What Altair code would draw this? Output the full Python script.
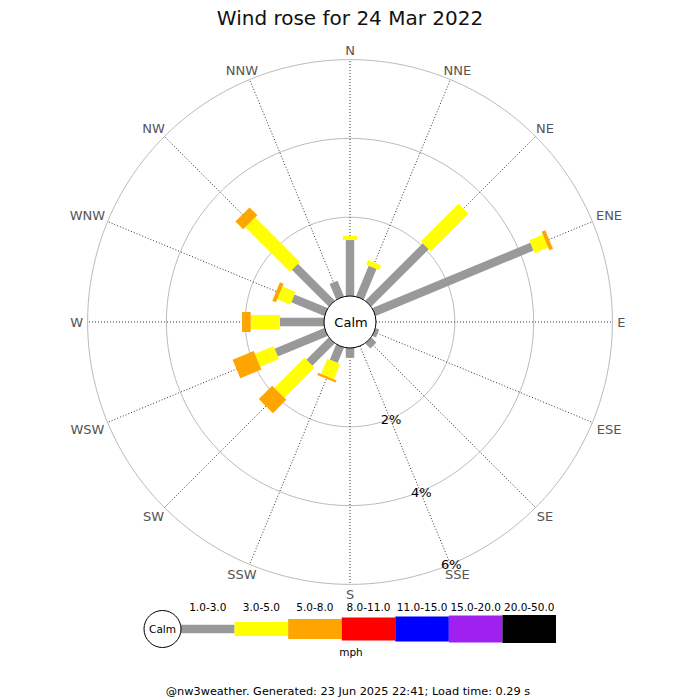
import altair as alt
import pandas as pd

# ---------------- data ----------------
directions = ["N", "NNE", "NE", "ENE", "E", "ESE", "SE", "SSE",
              "S", "SSW", "SW", "WSW", "W", "WNW", "NW", "NNW"]
speed_bins = ["1.0-3.0", "3.0-5.0", "5.0-8.0", "8.0-11.0",
              "11.0-15.0", "15.0-20.0", "20.0-50.0"]
# frequency (%) per direction for each speed bin
pct_1_3 = [1.42, 0.84, 2.06, 4.34, 0.0, 0.10, 0.18, 0.0,
           0.25, 0.42, 0.80, 1.37, 1.12, 0.91, 1.32, 0.43]
pct_3_5 = [0.11, 0.13, 1.35, 0.37, 0.0, 0.0, 0.0, 0.0,
           0.0, 0.42, 1.08, 0.51, 0.74, 0.36, 1.60, 0.0]
pct_5_8 = [0.0, 0.0, 0.0, 0.10, 0.0, 0.0, 0.0, 0.0,
           0.0, 0.06, 0.48, 0.58, 0.22, 0.10, 0.28, 0.0]
rings = [2, 4, 6]
ring_labels = ["2%", "4%", "6%"]
title_text = "Wind rose for 24 Mar 2022"
unit_text = "mph"
calm_text = "Calm"
footer_text = "@nw3weather. Generated: 23 Jun 2025 22:41; Load time: 0.29 s"

# ---------------- style ----------------
bin_colors = ["#999999", "#ffff00", "#ffa500", "#ff0000",
              "#0000ff", "#a020f0", "#000000"]
bin_widths = [8.5, 14, 20, 23, 25, 27, 28]
FONT = "DejaVu Sans"

W, H = 684, 692          # plot area
PX = 39.4                # pixels per percent
CX, CY = 342, 314        # rose centre inside the plot area
CALM_PX = 26             # calm circle radius (px)
C = CALM_PX / PX         # calm offset in percent units
LAB_PX = 267             # direction label anchor radius (px)

xs = alt.Scale(domain=[-CX / PX, (W - CX) / PX], range=[0, W], nice=False, zero=False)
ys = alt.Scale(domain=[-(H - CY) / PX, CY / PX], range=[H, 0], nice=False, zero=False)

bin_color_scale = alt.Scale(type="ordinal", domain=speed_bins, range=bin_colors)
bin_size_scale = alt.Scale(type="ordinal", domain=speed_bins, range=bin_widths)

# ---------------- tables ----------------
rows = []
for i, d in enumerate(directions):
    start = 0.0
    for b, series in zip(speed_bins, [pct_1_3, pct_3_5, pct_5_8]):
        v = series[i]
        if v > 0:
            rows.append({"dir": d, "idx": i, "bin": b, "start": start, "end": start + v})
            start += v
bars_df = pd.DataFrame(rows)

dir_df = pd.DataFrame({"dir": directions, "idx": list(range(len(directions)))})
ring_df = pd.DataFrame([{"ring": r, "deg": a} for r in rings for a in range(0, 361, 2)])
ring_lab_df = pd.DataFrame({"ring": rings, "label": ring_labels})
leg_df = pd.DataFrame({"bin": speed_bins, "li": list(range(len(speed_bins)))})

ANG = "datum.idx*PI/8"

# ---------------- layers ----------------
ring_layer = alt.Chart(ring_df).transform_calculate(
    x=f"({C}+datum.ring)*sin(datum.deg*PI/180)",
    y=f"({C}+datum.ring)*cos(datum.deg*PI/180)",
).mark_line(color="#bbbbbb", strokeWidth=1).encode(
    x=alt.X("x:Q", scale=xs, axis=None),
    y=alt.Y("y:Q", scale=ys, axis=None),
    detail="ring:N",
    order="deg:Q",
)

dir_line_layer = alt.Chart(dir_df).transform_calculate(
    x0=f"{C}*sin({ANG})",
    y0=f"{C}*cos({ANG})",
    x1=f"({C}+{max(rings)})*sin({ANG})",
    y1=f"({C}+{max(rings)})*cos({ANG})",
).mark_rule(color="#333333", strokeWidth=1, strokeDash=[1, 2]).encode(
    x=alt.X("x0:Q", scale=xs, axis=None),
    y=alt.Y("y0:Q", scale=ys, axis=None),
    x2="x1:Q",
    y2="y1:Q",
)

bar_layer = alt.Chart(bars_df).transform_calculate(
    x0=f"({C}+datum.start)*sin({ANG})",
    y0=f"({C}+datum.start)*cos({ANG})",
    x1=f"({C}+datum.end)*sin({ANG})",
    y1=f"({C}+datum.end)*cos({ANG})",
).mark_rule(strokeCap="butt").encode(
    x=alt.X("x0:Q", scale=xs, axis=None),
    y=alt.Y("y0:Q", scale=ys, axis=None),
    x2="x1:Q",
    y2="y1:Q",
    color=alt.Color("bin:N", scale=bin_color_scale, legend=None),
    size=alt.Size("bin:N", scale=bin_size_scale, legend=None),
)

calm_df = pd.DataFrame({"t": [calm_text]})
calm_circle = alt.Chart(calm_df).mark_point(
    shape="circle", size=(2 * CALM_PX) ** 2, filled=True, fill="white",
    stroke="black", strokeWidth=1, opacity=1,
).encode(
    x=alt.XDatum(0, scale=xs, axis=None),
    y=alt.YDatum(0, scale=ys, axis=None),
)
calm_label = alt.Chart(calm_df).mark_text(font=FONT, fontSize=13, color="black", dx=1, dy=1).encode(
    x=alt.XDatum(0, scale=xs, axis=None),
    y=alt.YDatum(0, scale=ys, axis=None),
    text="t:N",
)

# label centre: anchor on r=LAB_PX, shifted outward by half the text width
# horizontally and by half the cap height vertically
dir_label_layer = alt.Chart(dir_df).transform_calculate(
    nw="length(datum.dir)-length(replace(datum.dir, regexp('W','g'), ''))",
).transform_calculate(
    tw="length(datum.dir)*8.9+datum.nw*3.9",
).transform_calculate(
    x=f"({LAB_PX}*sin({ANG})+sin({ANG})*datum.tw/2)/{PX}",
    y=f"({LAB_PX}*cos({ANG})+(abs(cos({ANG}))<0.01?0:(cos({ANG})>0?5:-5)))/{PX}",
).mark_text(font=FONT, fontSize=13, color="#555555", dy=1).encode(
    x=alt.X("x:Q", scale=xs, axis=None),
    y=alt.Y("y:Q", scale=ys, axis=None),
    text="dir:N",
)

ring_label_layer = alt.Chart(ring_lab_df).transform_calculate(
    x=f"({C}+datum.ring)*sin(7*PI/8)",
    y=f"({C}+datum.ring)*cos(7*PI/8)",
).mark_text(font=FONT, fontSize=13, color="black", dx=1, dy=1).encode(
    x=alt.X("x:Q", scale=xs, axis=None),
    y=alt.Y("y:Q", scale=ys, axis=None),
    text="label:N",
)

# ---------------- legend ----------------
lx = alt.Scale(domain=[0, len(speed_bins)], range=[173, 548], nice=False, zero=False)
LEG_Y = 621
leg_bars = alt.Chart(leg_df).transform_calculate(li2="datum.li+1").mark_rule(strokeCap="butt").encode(
    x=alt.X("li:Q", scale=lx, axis=None),
    x2="li2:Q",
    y=alt.value(LEG_Y),
    color=alt.Color("bin:N", scale=bin_color_scale, legend=None),
    size=alt.Size("bin:N", scale=bin_size_scale, legend=None),
)
leg_labels = alt.Chart(leg_df).transform_calculate(lc="datum.li+0.5").mark_text(
    font=FONT, fontSize=10.5, color="black", dy=1
).encode(
    x=alt.X("lc:Q", scale=lx, axis=None),
    y=alt.value(599),
    text="bin:N",
)
leg_calm_circle = alt.Chart(calm_df).mark_point(
    shape="circle", size=37 ** 2, filled=True, fill="white",
    stroke="black", strokeWidth=1, opacity=1,
).encode(x=alt.value(154.5), y=alt.value(LEG_Y))
leg_calm_text = alt.Chart(calm_df).mark_text(font=FONT, fontSize=10.5, color="black", dy=1).encode(
    x=alt.value(154.5), y=alt.value(LEG_Y), text="t:N"
)
unit_layer = alt.Chart(pd.DataFrame({"t": [unit_text]})).mark_text(
    font=FONT, fontSize=10.5, color="black"
).encode(x=alt.value(343), y=alt.value(645), text="t:N")

title_layer = alt.Chart(pd.DataFrame({"t": [title_text]})).mark_text(
    font=FONT, fontSize=20, color="#111111"
).encode(x=alt.value(342), y=alt.value(11), text="t:N")

footer_layer = alt.Chart(pd.DataFrame({"t": [footer_text]})).mark_text(
    font=FONT, fontSize=11.3, color="black"
).encode(x=alt.value(340), y=alt.value(684), text="t:N")

chart = alt.layer(
    ring_layer, dir_line_layer, bar_layer, calm_circle, calm_label,
    dir_label_layer, ring_label_layer,
    leg_bars, leg_calm_circle, leg_calm_text, leg_labels, unit_layer,
    title_layer, footer_layer,
).resolve_scale(
    x="independent", y="independent"
).properties(
    width=W, height=H, padding=0, autosize=alt.AutoSizeParams(type="none"),
    background="white",
).configure_view(stroke=None)

chart.save("out.html", embed_options={"renderer": "svg", "actions": False})
